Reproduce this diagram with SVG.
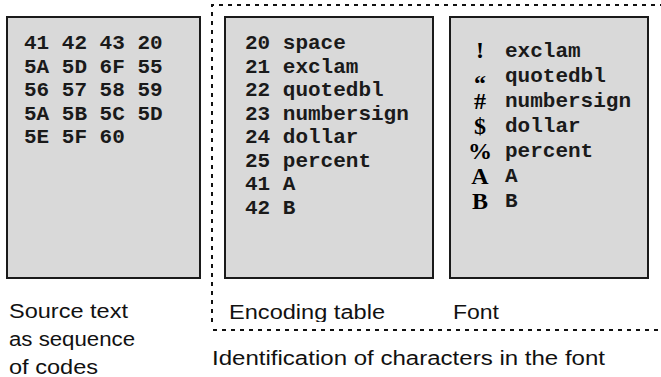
<svg xmlns="http://www.w3.org/2000/svg" width="661" height="377" viewBox="0 0 661 377">
<style>
.box{fill:#d9d9d9;stroke:#1a1a1a;stroke-width:2}
.mono{font-family:"Liberation Mono","Courier New",monospace;font-weight:bold;font-size:21px;fill:#1a1a1a}
.glyph{font-family:"Liberation Serif","Times New Roman",serif;font-weight:bold;font-size:24px;fill:#000;text-anchor:middle}
.lbl{font-family:"Liberation Sans",Arial,sans-serif;font-size:20px;fill:#111}
.dot{fill:none;stroke:#111;stroke-width:2;stroke-dasharray:4 5}
</style>
<defs>
<clipPath id="clipEnc"><rect x="0" y="0" width="661" height="322"/></clipPath>
</defs>
<rect width="661" height="377" fill="#fff"/>
<g id="connectors">
<path class="dot" d="M212 322 V5 H661"/>
<path class="dot" d="M213 330 H661"/>
</g>
<g id="source">
<rect class="box" x="7" y="17" width="193" height="261"/>
<text class="mono" x="24" y="49">41 42 43 20</text>
<text class="mono" x="24" y="72.5">5A 5D 6F 55</text>
<text class="mono" x="24" y="96">56 57 58 59</text>
<text class="mono" x="24" y="119.5">5A 5B 5C 5D</text>
<text class="mono" x="24" y="143">5E 5F 60</text>
</g>
<g id="encoding">
<rect class="box" x="225" y="17" width="208" height="261"/>
<text class="mono" x="245" y="49">20 space</text>
<text class="mono" x="245" y="72.5">21 exclam</text>
<text class="mono" x="245" y="96">22 quotedbl</text>
<text class="mono" x="245" y="119.5">23 numbersign</text>
<text class="mono" x="245" y="143">24 dollar</text>
<text class="mono" x="245" y="166.5">25 percent</text>
<text class="mono" x="245" y="190">41 A</text>
<text class="mono" x="245" y="213.5">42 B</text>
</g>
<g id="font">
<rect class="box" x="450" y="17" width="198" height="261"/>
<text class="glyph" x="480" y="58">!</text>
<text class="glyph" x="480" y="91">“</text>
<text class="glyph" x="480" y="109">#</text>
<text class="glyph" x="480" y="134">$</text>
<text class="glyph" x="480" y="159">%</text>
<text class="glyph" x="480" y="184">A</text>
<text class="glyph" x="480" y="209">B</text>
<text class="mono" x="505" y="57">exclam</text>
<text class="mono" x="505" y="82">quotedbl</text>
<text class="mono" x="505" y="107">numbersign</text>
<text class="mono" x="505" y="132">dollar</text>
<text class="mono" x="505" y="157">percent</text>
<text class="mono" x="505" y="182">A</text>
<text class="mono" x="505" y="207">B</text>
</g>
<g id="labels">
<text class="lbl" x="9" y="318" textLength="119" lengthAdjust="spacingAndGlyphs">Source text</text>
<text class="lbl" x="9" y="346" textLength="126" lengthAdjust="spacingAndGlyphs">as sequence</text>
<text class="lbl" x="9" y="373.5" textLength="89" lengthAdjust="spacingAndGlyphs">of codes</text>
<text class="lbl" x="229" y="319" textLength="156" lengthAdjust="spacingAndGlyphs" clip-path="url(#clipEnc)">Encoding table</text>
<text class="lbl" x="453" y="319" textLength="46" lengthAdjust="spacingAndGlyphs">Font</text>
<text class="lbl" x="212" y="365" textLength="393" lengthAdjust="spacingAndGlyphs">Identification of characters in the font</text>
</g>
</svg>
